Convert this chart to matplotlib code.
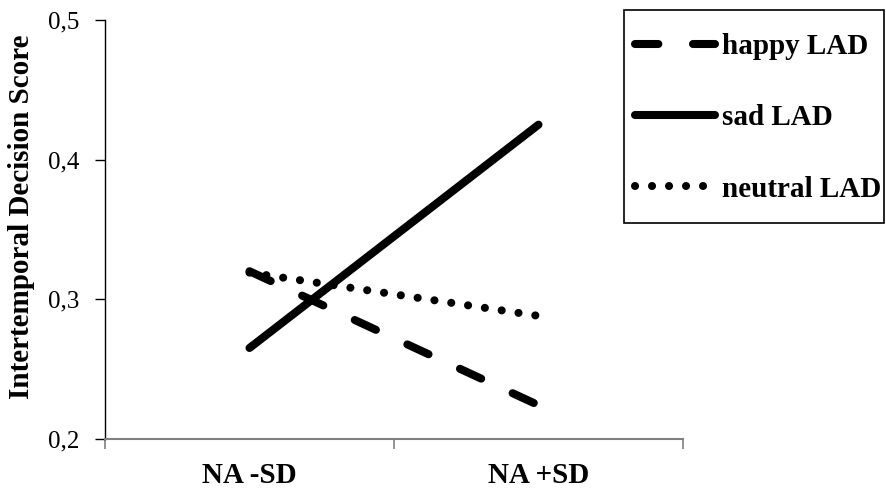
import matplotlib
matplotlib.use("Agg")
import matplotlib.pyplot as plt
from matplotlib.patches import Rectangle
from matplotlib.ticker import FuncFormatter

# data
categories = ["NA -SD", "NA +SD"]
happy = [0.320, 0.224]
sad = [0.265, 0.425]
neutral = [0.319, 0.288]
yticks = [0.2, 0.3, 0.4, 0.5]

plt.rcParams['font.family'] = 'Liberation Serif'

W, H = 887, 488
fig = plt.figure(figsize=(W/100, H/100), dpi=100)
ax = fig.add_axes([105/W, 1 - 438.7/H, (683 - 105)/W, (438.7 - 20)/H])

xs = [0.5, 1.5]
lw = 5.8
ax.plot(xs, happy, color='black', lw=lw, dashes=(2.9, 4.3),
        dash_capstyle='round', solid_capstyle='round', label='happy LAD')
ax.plot(xs, sad, color='black', lw=lw, solid_capstyle='round', label='sad LAD')
ax.plot(xs, neutral, color='black', lw=5.8, dashes=(0.01, 2.1),
        dash_capstyle='round', label='neutral LAD')

ax.set_xlim(0, 2)
ax.set_ylim(0.2, 0.5)
ax.set_yticks(yticks)
ax.yaxis.set_major_formatter(FuncFormatter(lambda v, p: f"{v:.1f}".replace('.', ',')))
ax.set_xticks([0, 1, 2])
ax.set_xticklabels([])
ax.set_xticks(xs, minor=True)
ax.set_xticklabels(categories, minor=True, fontsize=21, fontweight='bold')
ax.tick_params(axis='x', which='minor', length=0, pad=17)
ax.tick_params(axis='x', which='major', length=7, color='#808080', width=1.2)
ax.tick_params(axis='y', length=7, width=1, labelsize=18, pad=11.5)

for s in ['top', 'right']:
    ax.spines[s].set_visible(False)
ax.spines['left'].set_color('black')
ax.spines['left'].set_linewidth(1)
ax.spines['bottom'].set_color('#808080')
ax.spines['bottom'].set_linewidth(1.5)

fig.text(22/W, 1 - 217/H, "Intertemporal Decision Score", rotation=90,
         ha='center', va='center', fontsize=21, fontweight='bold')

# legend box drawn separately so the inner padding can differ by direction
fig.patches.append(Rectangle((624/W, 1 - 223/H), (884 - 624)/W, (223 - 10)/H,
                             transform=fig.transFigure, fill=False,
                             edgecolor='black', linewidth=1.2))
leg = ax.legend(loc='upper left', bbox_to_anchor=(612/W, 1 - 10/H),
                bbox_transform=fig.transFigure, borderaxespad=0,
                frameon=False,
                prop={'family': 'Liberation Serif', 'weight': 'bold', 'size': 21},
                handlelength=2.74, handletextpad=0.24, labelspacing=1.52,
                borderpad=0.79)

fig.savefig("out.png", dpi=100)
